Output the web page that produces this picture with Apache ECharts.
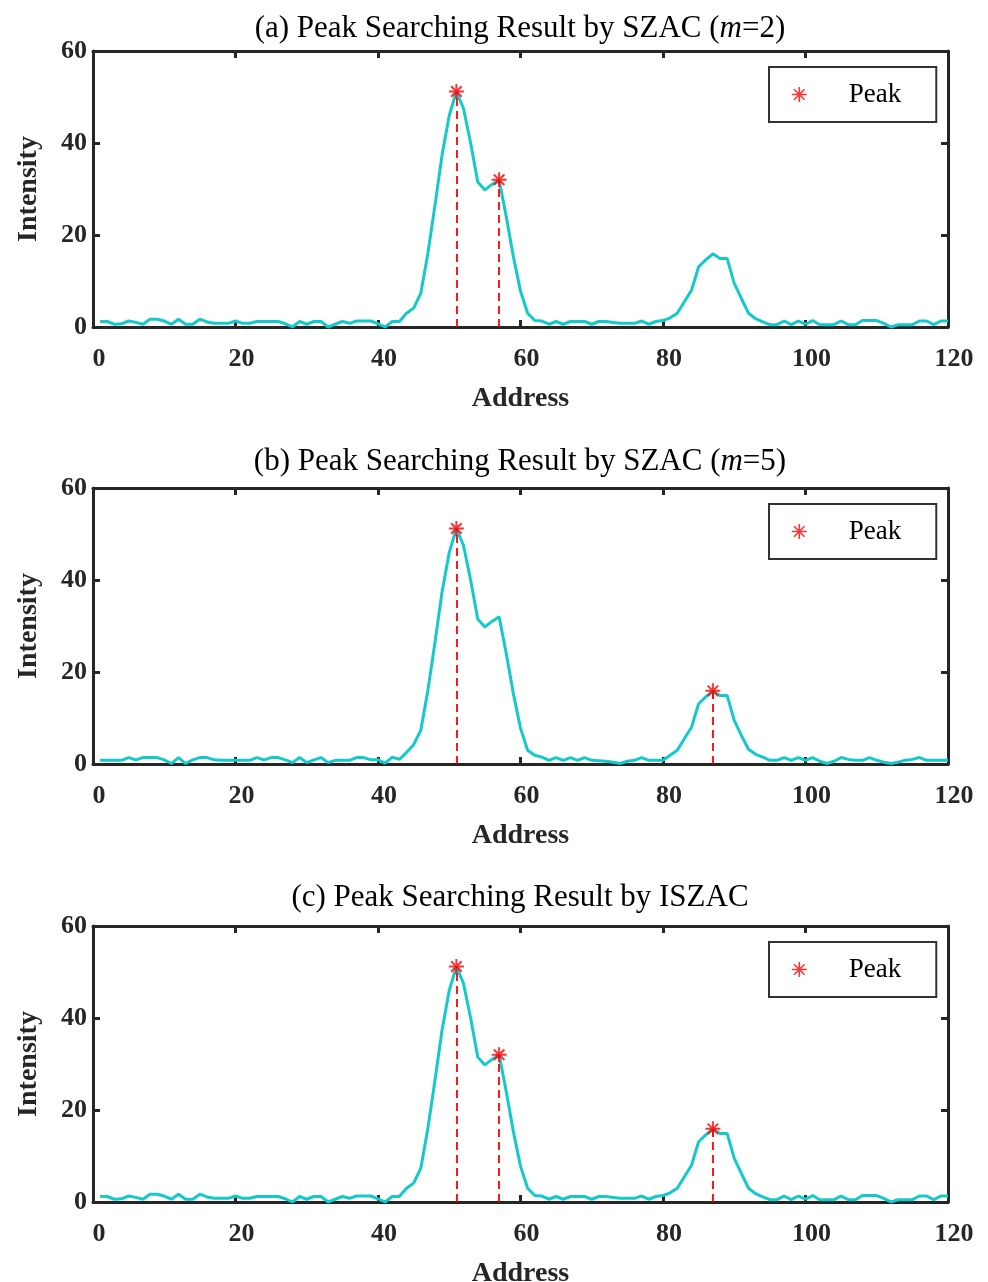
<!DOCTYPE html>
<html>
<head>
<meta charset="utf-8">
<script src="https://cdn.jsdelivr.net/npm/echarts@6/dist/echarts.min.js"></script>
<style>
  html, body { margin: 0; padding: 0; background: #fff; }
  #chart { width: 988px; height: 1282px; }
</style>
</head>
<body>
<div id="chart"></div>
<script>
// intensity at address 1..120 (panels a and c use the same signal)
const intensityA = [
  1.2, 1.2, 0.6, 0.7, 1.3, 1.0, 0.6, 1.7, 1.7, 1.3,
  0.6, 1.7, 0.6, 0.6, 1.7, 1.1, 0.8, 0.8, 0.8, 1.3,
  0.8, 0.8, 1.2, 1.2, 1.2, 1.2, 0.7, 0.0, 1.2, 0.6,
  1.2, 1.2, 0.0, 0.6, 1.2, 0.8, 1.3, 1.3, 1.3, 0.7,
  0.0, 1.2, 1.2, 3.0, 4.1, 7.3, 16.0, 26.5, 37.5, 46.0,
  51.2, 47.5, 40.0, 31.5, 29.8, 31.0, 32.0, 24.0, 15.3, 7.8,
  3.0, 1.4, 1.3, 0.6, 1.2, 0.6, 1.2, 1.2, 1.2, 0.6,
  1.2, 1.2, 1.0, 0.8, 0.8, 0.8, 1.3, 0.6, 1.2, 1.4,
  2.0, 3.0, 5.5, 8.0, 13.1, 14.6, 15.9, 14.9, 14.9, 9.5,
  6.2, 3.0, 1.8, 1.1, 0.5, 0.5, 1.3, 0.5, 1.3, 0.6,
  1.4, 0.5, 0.5, 0.5, 1.3, 0.5, 0.5, 1.4, 1.4, 1.4,
  0.8, 0.0, 0.5, 0.5, 0.5, 1.3, 1.3, 0.5, 1.3, 1.3
];
const intensityB = [
  0.8, 0.8, 0.8, 0.8, 1.4, 0.9, 1.4, 1.4, 1.4, 0.9,
  0.1, 1.4, 0.1, 0.9, 1.4, 1.4, 0.9, 0.8, 0.8, 0.8,
  0.8, 0.8, 1.4, 0.9, 1.4, 1.4, 0.9, 0.3, 1.4, 0.3,
  0.9, 1.4, 0.3, 0.8, 0.8, 0.8, 1.4, 1.4, 0.9, 0.9,
  0.2, 1.5, 1.0, 2.5, 4.2, 7.3, 16.0, 26.5, 37.5, 46.0,
  51.2, 47.5, 40.0, 31.5, 29.8, 31.0, 32.0, 24.0, 15.3, 7.8,
  3.0, 1.9, 1.5, 0.8, 1.4, 0.8, 1.4, 0.8, 1.4, 0.8,
  0.7, 0.6, 0.4, 0.1, 0.6, 0.8, 1.4, 0.8, 0.8, 0.8,
  1.9, 3.0, 5.5, 8.0, 13.1, 14.6, 15.9, 14.9, 14.9, 9.5,
  6.2, 3.2, 2.1, 1.5, 0.8, 0.8, 1.4, 0.8, 1.4, 0.8,
  1.4, 0.6, 0.1, 0.6, 1.4, 1.0, 0.8, 0.8, 1.4, 0.8,
  0.4, 0.1, 0.4, 0.8, 1.0, 1.4, 0.8, 0.8, 0.8, 0.8
];

// addresses of detected peaks
const peaksA = [51, 57];
const peaksB = [51, 87];
const peaksC = [51, 57, 87];

const titles = [
  '(a) Peak Searching Result by SZAC ({it|m}=2)',
  '(b) Peak Searching Result by SZAC ({it|m}=5)',
  '(c) Peak Searching Result by ISZAC'
];

const xTicks = [0, 20, 40, 60, 80, 100, 120];
const yTicks = [0, 20, 40, 60];

const panels = [
  { data: intensityA, peaks: peaksA, title: titles[0], top: 51, titleTop: 13 },
  { data: intensityB, peaks: peaksB, title: titles[1], top: 488, titleTop: 446 },
  { data: intensityA, peaks: peaksC, title: titles[2], top: 926, titleTop: 882 }
];

const FONT = 'Liberation Serif';
const AXIS_COLOR = '#262626';
const LINE_COLOR = '#14C9CC';
const STAR = 'path://M10,0L10,20M0,10L20,10M3,3L17,17M3,17L17,3';
const PLOT_H = 276;

const chart = echarts.init(document.getElementById('chart'), null, { renderer: 'canvas' });

const grid = [], xAxis = [], yAxis = [], series = [], title = [], legend = [];

const axisLine = { show: true, onZero: false, lineStyle: { color: AXIS_COLOR, width: 3 } };
const axisTick = { show: true, inside: true, length: 7, lineStyle: { color: AXIS_COLOR, width: 3 } };

panels.forEach((p, i) => {
  grid.push({
    left: 93, right: 40, top: p.top, height: PLOT_H,
    containLabel: false, outerBoundsMode: 'none'
  });

  title.push({
    text: p.title,
    left: 520,
    textAlign: 'center',
    top: p.titleTop,
    padding: 0,
    textStyle: {
      fontFamily: FONT, fontSize: 31, fontWeight: 'normal', color: '#000',
      rich: { it: { fontFamily: FONT, fontSize: 31, fontStyle: 'italic', color: '#000' } }
    }
  });

  // bottom x axis
  xAxis.push({
    type: 'value', gridIndex: i, min: 0, max: 120, interval: 20,
    name: 'Address', nameLocation: 'middle', nameGap: 58,
    nameTextStyle: { fontFamily: FONT, fontSize: 28, fontWeight: 'bold', color: AXIS_COLOR },
    axisLine, axisTick,
    axisLabel: {
      fontFamily: FONT, fontSize: 26, fontWeight: 'bold', color: AXIS_COLOR,
      margin: 19, padding: [0, 0, 0, 12],
      formatter: (v) => xTicks.includes(v) ? String(v) : ''
    },
    splitLine: { show: false }
  });
  // top x axis (box + ticks)
  xAxis.push({
    type: 'value', gridIndex: i, min: 0, max: 120, interval: 20, position: 'top',
    axisLine, axisTick, axisLabel: { show: false }, splitLine: { show: false }
  });
  // left y axis
  yAxis.push({
    type: 'value', gridIndex: i, min: 0, max: 60, interval: 20,
    name: 'Intensity', nameLocation: 'middle', nameGap: 50,
    nameTextStyle: { fontFamily: FONT, fontSize: 28, fontWeight: 'bold', color: AXIS_COLOR },
    axisLine, axisTick,
    axisLabel: {
      fontFamily: FONT, fontSize: 26, fontWeight: 'bold', color: AXIS_COLOR, margin: 6,
      formatter: (v) => yTicks.includes(v) ? String(v) : ''
    },
    splitLine: { show: false }
  });
  // right y axis
  yAxis.push({
    type: 'value', gridIndex: i, min: 0, max: 60, interval: 20, position: 'right',
    axisLine, axisTick, axisLabel: { show: false }, splitLine: { show: false }
  });

  series.push({
    type: 'line', name: 'Signal',
    xAxisIndex: i * 2, yAxisIndex: i * 2,
    data: p.data.map((v, k) => [k + 1, v]),
    showSymbol: false, clip: false, z: 3,
    lineStyle: { color: LINE_COLOR, width: 3 },
    itemStyle: { color: LINE_COLOR },
    silent: true
  });

  const peakPts = p.peaks.map((a) => [a, p.data[a - 1]]);
  series.push({
    type: 'scatter', name: 'Peak',
    xAxisIndex: i * 2, yAxisIndex: i * 2,
    data: peakPts,
    symbol: STAR, symbolSize: 15, z: 5,
    itemStyle: { color: '#ff0000', borderColor: '#ff0000', borderWidth: 2 },
    markLine: {
      silent: true, symbol: 'none', label: { show: false },
      lineStyle: { color: '#ff0000', type: [8, 5], width: 1.8 },
      data: peakPts.map((pt) => [{ coord: [pt[0], 0] }, { coord: [pt[0], pt[1]] }])
    }
  });

  legend.push({
    data: [{ name: 'Peak', icon: STAR }],
    left: 769, top: p.top + 16,
    orient: 'vertical',
    padding: [13, 35, 13, 22],
    itemWidth: 15, itemHeight: 15, itemGap: 0,
    backgroundColor: '#fff',
    borderColor: '#333', borderWidth: 2, borderRadius: 0,
    itemStyle: { color: '#ff0000', borderColor: '#ff0000', borderWidth: 1.6 },
    textStyle: { fontFamily: FONT, fontSize: 27, color: '#000', padding: [0, 0, 0, 37], lineHeight: 29 },
    selectedMode: false
  });
});

chart.setOption({
  backgroundColor: '#fff',
  animation: false,
  title, grid, xAxis, yAxis, legend, series
});
</script>
</body>
</html>
